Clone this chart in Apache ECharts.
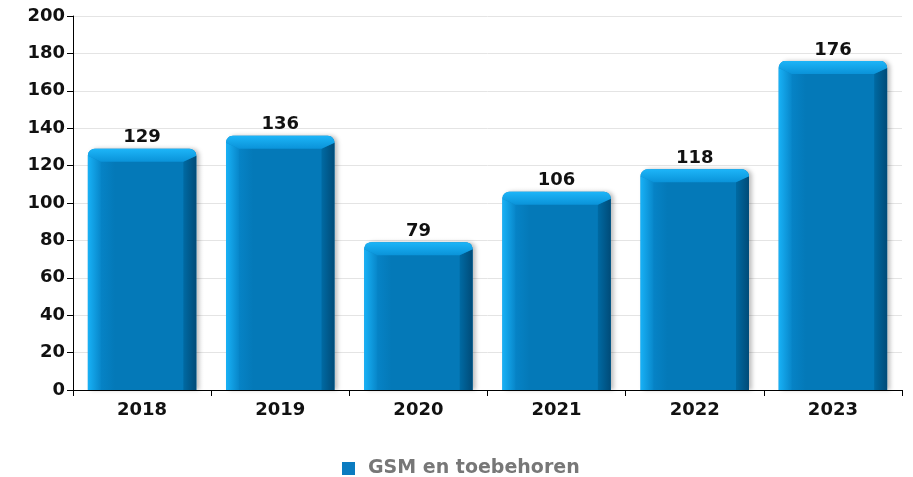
<!DOCTYPE html>
<html>
<head>
<meta charset="utf-8">
<script src="https://cdn.jsdelivr.net/npm/echarts@6/dist/echarts.min.js"></script>
<style>
  html, body { margin: 0; padding: 0; background: #ffffff; }
  #chart { width: 913px; height: 477px; }
</style>
</head>
<body>
<div id="chart"></div>
<script>
// Yearly figures for the single series
const years = ['2018', '2019', '2020', '2021', '2022', '2023'];
const values = [129, 136, 79, 106, 118, 176];
const seriesName = 'GSM en toebehoren';
const yTicks = { min: 0, max: 200, interval: 20 };

const FONT = 'DejaVu Sans';
const MAIN = '#0479b8';

// Points along a quarter circle, used for the rounded top corners
function arcPts(cx, cy, r, a0, a1, n) {
  const pts = [];
  for (let i = 0; i <= n; i++) {
    const a = a0 + (a1 - a0) * i / n;
    pts.push([cx + r * Math.cos(a), cy + r * Math.sin(a)]);
  }
  return pts;
}

// Bevelled bar: front face, left/right faces and a top cap, plus the value label
function renderBar(params, api) {
  const idx = api.value(0);
  const v = api.value(1);
  const top = api.coord([idx, v]);
  const base = api.coord([idx, 0]);
  const band = api.size([1, 0])[0];
  const w = band * 0.785;
  const x0 = top[0] - w / 2, x1 = top[0] + w / 2;
  const y0 = top[1], y1 = base[1];
  const r = 7, b = 13;

  const tl = arcPts(x0 + r, y0 + r, r, Math.PI, 1.5 * Math.PI, 6);
  const tr = arcPts(x1 - r, y0 + r, r, 1.5 * Math.PI, 2 * Math.PI, 6);
  const bodyPts = tl.concat(tr).concat([[x1, y1], [x0, y1]]);
  const capPts = tl.concat(tr).concat([[x1 - b, y0 + b], [x0 + b, y0 + b]]);

  return {
    type: 'group',
    children: [
      {
        type: 'polygon',
        shape: { points: bodyPts },
        style: {
          fill: new echarts.graphic.LinearGradient(0, 0, 1, 0, [
            { offset: 0, color: '#0a8fd4' },
            { offset: 0.12, color: '#0683c6' },
            { offset: 0.25, color: MAIN },
            { offset: 1, color: MAIN }
          ]),
          shadowBlur: 4,
          shadowOffsetX: 3,
          shadowOffsetY: 0,
          shadowColor: 'rgba(0,0,0,0.25)'
        }
      },
      {
        type: 'polygon',
        shape: { points: [[x0, y0 + r], [x0 + b, y0 + b], [x0 + b, y1], [x0, y1]] },
        style: {
          fill: new echarts.graphic.LinearGradient(0, 0, 1, 0, [
            { offset: 0, color: '#18b1f6' },
            { offset: 1, color: '#0887ca' }
          ])
        }
      },
      {
        type: 'polygon',
        shape: { points: [[x1, y0 + r], [x1 - b, y0 + b], [x1 - b, y1], [x1, y1]] },
        style: {
          fill: new echarts.graphic.LinearGradient(0, 0, 1, 0, [
            { offset: 0, color: '#006aa3' },
            { offset: 1, color: '#004b78' }
          ])
        }
      },
      {
        type: 'polygon',
        shape: { points: capPts },
        style: {
          fill: new echarts.graphic.LinearGradient(0, 0, 0, 1, [
            { offset: 0, color: '#1db5f8' },
            { offset: 1, color: '#0a93d9' }
          ])
        }
      },
      {
        type: 'text',
        style: {
          text: String(v),
          x: top[0],
          y: y0 - 2,
          align: 'center',
          verticalAlign: 'bottom',
          font: 'bold 18px "' + FONT + '"',
          fill: '#111111'
        }
      }
    ]
  };
}

const chart = echarts.init(document.getElementById('chart'), null, { renderer: 'canvas' });
chart.setOption({
  animation: false,
  backgroundColor: '#ffffff',
  grid: { left: 73, right: 11, top: 16, bottom: 87, containLabel: false },
  legend: {
    data: [{ name: seriesName, icon: 'rect' }],
    top: 454,
    left: 337,
    itemWidth: 13,
    itemHeight: 13,
    itemGap: 13,
    textStyle: {
      fontFamily: FONT, fontWeight: 'bold', fontSize: 19, color: '#777777',
      padding: [0, 0, 0, 8]
    }
  },
  xAxis: {
    type: 'category',
    data: years,
    axisLine: { lineStyle: { color: '#000000', width: 1 } },
    axisTick: { show: true, alignWithLabel: false, length: 6, lineStyle: { color: '#000000' } },
    axisLabel: { fontFamily: FONT, fontWeight: 'bold', fontSize: 18, color: '#111111', margin: 11 },
    splitLine: { show: false }
  },
  yAxis: {
    type: 'value',
    min: yTicks.min,
    max: yTicks.max,
    interval: yTicks.interval,
    axisLine: { show: true, lineStyle: { color: '#000000', width: 1 } },
    axisTick: { show: true, length: 6, lineStyle: { color: '#000000' } },
    axisLabel: { fontFamily: FONT, fontWeight: 'bold', fontSize: 18, color: '#111111', margin: 8 },
    splitLine: { show: true, lineStyle: { color: '#e4e4e4', width: 1 } }
  },
  series: [{
    name: seriesName,
    type: 'custom',
    itemStyle: { color: '#0a7bc0' },
    data: values.map((v, i) => [i, v]),
    encode: { x: 0, y: 1 },
    renderItem: renderBar,
    z: 3
  }]
});
</script>
</body>
</html>
